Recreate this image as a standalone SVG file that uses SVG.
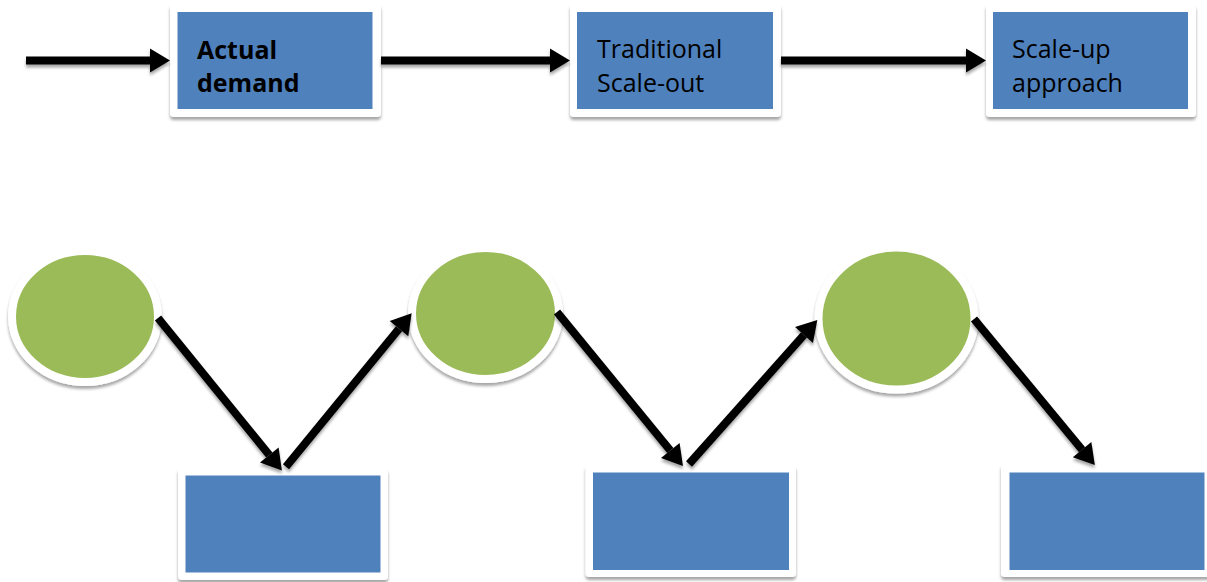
<svg xmlns="http://www.w3.org/2000/svg" width="1207" height="582" viewBox="0 0 1207 582">
  <defs>
    <filter id="sh" filterUnits="userSpaceOnUse" x="0" y="0" width="1207" height="582">
      <feDropShadow dx="0" dy="3" stdDeviation="1.8" flood-color="#000" flood-opacity="0.35"/>
    </filter>
    <marker id="ah" markerUnits="userSpaceOnUse" markerWidth="22" markerHeight="26" refX="0" refY="12" orient="auto" overflow="visible">
      <path d="M0,0 L20,12 L0,24 z" fill="#000"/>
    </marker>
    <style>
      .frame { fill: #fff; filter: url(#sh); }
      .box { fill: #4F81BD; }
      .ell { fill: #9BBB59; stroke: #fff; stroke-width: 8; filter: url(#sh); }
      .conn { stroke: #000; stroke-width: 8; fill: none; marker-end: url(#ah); filter: url(#sh); }
      .t { font-family: "Open Sans", "Liberation Sans", sans-serif; font-size: 25px; fill: #000; }
      .b { font-weight: bold; }
    </style>
  </defs>
  <rect width="1207" height="582" fill="#fff"/>

  <g id="node-actual-demand">
    <rect class="frame" x="170" y="4" width="211" height="113" rx="4"/>
    <rect class="box" x="177.5" y="12" width="195" height="97"/>
    <text class="t b" x="197" y="59">Actual</text>
    <text class="t b" x="197" y="92">demand</text>
  </g>
  <g id="node-traditional">
    <rect class="frame" x="570" y="4" width="211" height="113" rx="4"/>
    <rect class="box" x="577" y="12" width="196" height="97"/>
    <text class="t" x="597" y="58">Traditional</text>
    <text class="t" x="597" y="92">Scale-out</text>
  </g>
  <g id="node-scaleup">
    <rect class="frame" x="986" y="4" width="210" height="113" rx="4"/>
    <rect class="box" x="993" y="12" width="195" height="97"/>
    <text class="t" x="1012" y="58">Scale-up</text>
    <text class="t" x="1012" y="92">approach</text>
  </g>

  <g id="node-ellipse-1">
    <ellipse class="ell" cx="85" cy="316.5" rx="73" ry="65.5"/>
  </g>
  <g id="node-ellipse-2">
    <ellipse class="ell" cx="485.5" cy="313.5" rx="73.5" ry="65.5"/>
  </g>
  <g id="node-ellipse-3">
    <ellipse class="ell" cx="896.5" cy="318.5" rx="78" ry="71"/>
  </g>

  <g id="node-box-1">
    <rect class="frame" x="178" y="468" width="210" height="112" rx="4"/>
    <rect class="box" x="185.5" y="475.5" width="195" height="97"/>
  </g>
  <g id="node-box-2">
    <rect class="frame" x="585.5" y="465" width="210.5" height="112" rx="4"/>
    <rect class="box" x="593" y="472.5" width="196" height="97.5"/>
  </g>
  <g id="node-box-3">
    <rect class="frame" x="1001" y="464" width="210" height="113" rx="4"/>
    <rect class="box" x="1009.5" y="472.5" width="195" height="97.5"/>
  </g>

  <g id="connectors">
    <line class="conn" x1="26" y1="60.5" x2="150" y2="60.5"/>
    <line class="conn" x1="381" y1="60.5" x2="550" y2="60.5"/>
    <line class="conn" x1="781" y1="60.5" x2="966" y2="60.5"/>
    <line class="conn" x1="158" y1="318" x2="269.3" y2="455"/>
    <line class="conn" x1="286" y1="466.7" x2="399" y2="328.7"/>
    <line class="conn" x1="557" y1="312" x2="670.3" y2="450.5"/>
    <line class="conn" x1="689" y1="464" x2="804" y2="334.9"/>
    <line class="conn" x1="974" y1="319" x2="1082.1" y2="449.7"/>
  </g>
</svg>
